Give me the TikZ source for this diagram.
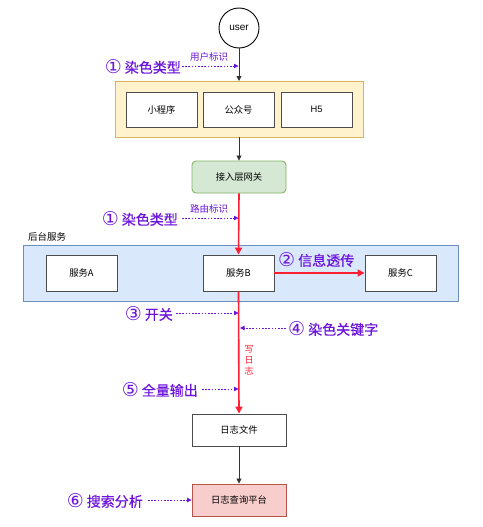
\documentclass[tikz,border=0pt]{standalone}
\usepackage{fontspec}
\setmainfont{Liberation Sans}
\newfontfamily\cjk{Noto Sans CJK SC}
\newfontfamily\cjkb{Noto Sans CJK SC}[FakeBold=0.5]
\newfontfamily\djv{DejaVu Sans}
\usetikzlibrary{arrows.meta}
\definecolor{purp}{RGB}{108,20,220}
\definecolor{redl}{RGB}{255,30,50}
\definecolor{yelf}{HTML}{FFF2CC}
\definecolor{yeld}{HTML}{D6B656}
\definecolor{grnf}{HTML}{D5E8D4}
\definecolor{grnd}{HTML}{82B366}
\definecolor{bluf}{HTML}{DAE8FC}
\definecolor{blud}{HTML}{6C8EBF}
\definecolor{pnkf}{HTML}{F8CECC}
\definecolor{pnkd}{HTML}{B85450}
\newcommand{\cdg}[1]{\raisebox{-1.2pt}{\djv\fontsize{19}{16}\selectfont #1}\hspace{3pt}}
\begin{document}
\begin{tikzpicture}[x=1pt,y=-1pt,
  box/.style={draw=black!70,line width=0.9pt,fill=white,inner sep=0pt,font=\cjk\fontsize{9.3}{11}\selectfont},
  big/.style={text=purp,inner sep=1pt,font=\cjkb\fontsize{14}{16}\selectfont},
  small/.style={text=purp,inner sep=0pt,font=\cjk\fontsize{9.5}{11}\selectfont},
  darr/.style={draw=purp,line width=0.8pt,dash pattern=on 1.6pt off 1.6pt,-{Triangle[length=4.5pt,width=4.5pt]}},
  barr/.style={draw=black!80,line width=0.8pt,-{Triangle[length=5pt,width=5pt]}},
  rarr/.style={draw=redl,line width=1.6pt,-{Triangle[length=7pt,width=7pt]}}]
\useasboundingbox (0,0) rectangle (482,527);
% user
\node[circle,draw=black,line width=0.9pt,minimum size=40pt,inner sep=0pt,font=\fontsize{10}{12}\selectfont] (user) at (239,28) {user};
% yellow group
\draw[fill=yelf,draw=yeld,line width=0.9pt] (115,81) rectangle (363,137);
\coordinate (yt) at (239,81);
\coordinate (yb) at (239,137);
\node[box,minimum width=71pt,minimum height=35pt] (mini) at (161.5,109.5) {小程序};
\node[box,minimum width=71pt,minimum height=35pt] (gzh) at (238.5,109.5) {公众号};
\node[box,minimum width=71pt,minimum height=35pt,font=\fontsize{9.3}{11}\selectfont] (h5) at (316.5,109.5) {H5};
% gateway
\node[box,draw=grnd,fill=grnf,rounded corners=4pt,minimum width=94pt,minimum height=32pt] (gw) at (239,177) {接入层网关};
% backend
\node[inner sep=0pt,font=\cjk\fontsize{9.5}{11}\selectfont,anchor=west] (bt) at (28,237) {后台服务};
\draw[fill=bluf,draw=blud,line width=0.9pt] (23,245) rectangle (458,301);
\node[box,minimum width=71pt,minimum height=36pt] (sa) at (81.5,273) {服务A};
\node[box,minimum width=71pt,minimum height=36pt] (sb) at (238.5,273) {服务B};
\node[box,minimum width=71pt,minimum height=36pt] (sc) at (400.5,273) {服务C};
% logs
\node[box,minimum width=94pt,minimum height=32pt] (lf) at (239,430) {日志文件};
\node[box,draw=pnkd,fill=pnkf,minimum width=94pt,minimum height=32pt] (lp) at (239,500) {日志查询平台};
% main connectors
\draw[barr] (user.south) -- (yt);
\draw[barr] (yb) -- (gw.north);
\draw[rarr] (gw.south) -- (sb.north);
\draw[rarr] (sb.east) -- (sc.west);
\draw[rarr] (sb.south) -- (lf.north);
\draw[barr] (lf.south) -- (lp.north);
% annotations
\node[big,anchor=east] (a1) at (182,67) {\cdg{①}染色类型};
\node[small] (u1) at (209,57) {用户标识};
\coordinate (p1) at (238.5,66);
\draw[darr] (a1.east) ++(0,-1) -- (p1);
\node[big,anchor=east] (a2) at (179,219) {\cdg{①}染色类型};
\node[small] (u2) at (209,209) {路由标识};
\coordinate (p2) at (238.5,218);
\draw[darr] (a2.east) ++(3,-1) -- (p2);
\node[big,anchor=west] (a3b) at (277,260) {\cdg{②}信息透传};
\node[big,anchor=east] (a3) at (174,314) {\cdg{③}开关};
\coordinate (p3) at (238.5,313);
\draw[darr] (a3.east) ++(2,-1) -- (p3);
\node[big,anchor=west] (a4) at (287,329) {\cdg{④}染色关键字};
\coordinate (p4) at (240,328);
\draw[darr] (a4.west) ++(-1,-1) -- (p4);
\node[text=redl,inner sep=0pt,align=center,font=\cjk\fontsize{9}{11}\selectfont] (wr) at (249,360) {写\\日\\志};
\node[big,anchor=east] (a5) at (199,390) {\cdg{⑤}全量输出};
\coordinate (p5) at (238.5,389);
\draw[darr] (a5.east) ++(3,-1) -- (p5);
\node[big,anchor=east] (a6) at (144,501) {\cdg{⑥}搜索分析};
\draw[darr] (a6.east) ++(4,-1) -- (lp.west);
\end{tikzpicture}
\end{document}
